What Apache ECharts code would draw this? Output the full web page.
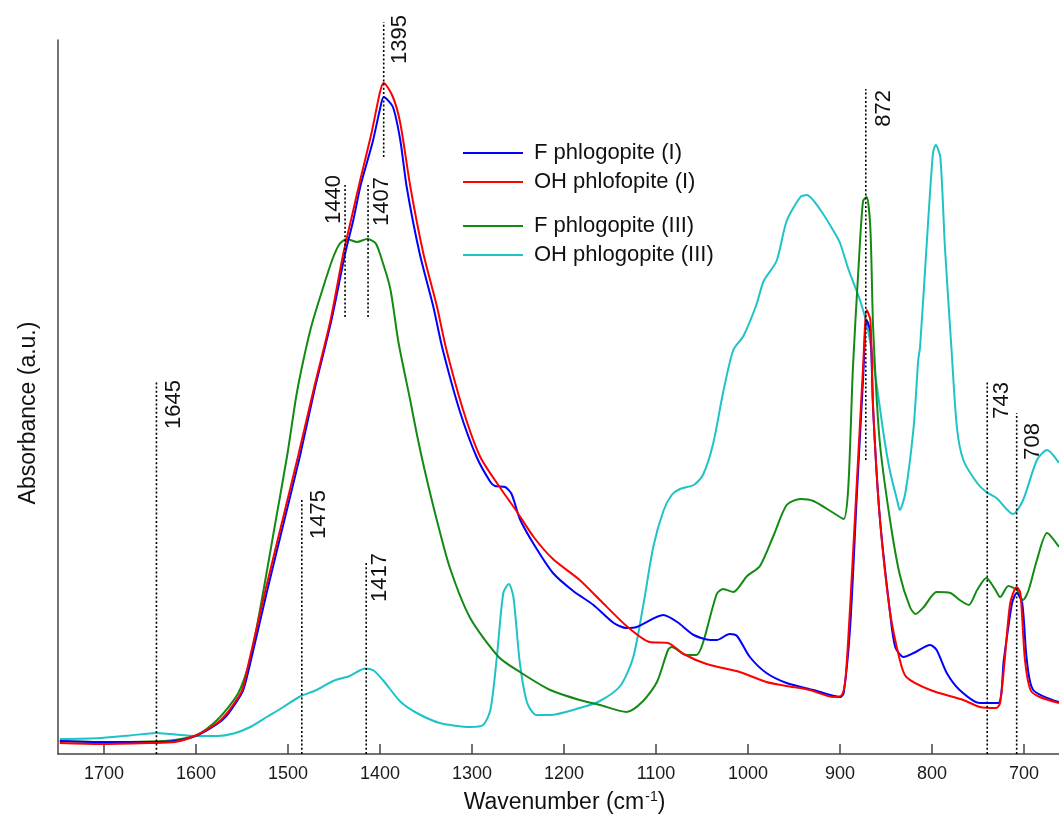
<!DOCTYPE html>
<html>
<head>
<meta charset="utf-8">
<script src="https://cdn.jsdelivr.net/npm/echarts@6/dist/echarts.min.js"></script>
<style>
  html, body { margin: 0; padding: 0; background: #fff; }
  #chart { width: 1059px; height: 816px; }
</style>
</head>
<body>
<div id="chart"></div>
<script>
// ---------------- DATA (wavenumber cm-1, absorbance a.u.) ----------------
const xTickValues = [1700, 1600, 1500, 1400, 1300, 1200, 1100, 1000, 900, 800, 700];
const xRange = [662, 1750];
const yRange = [0, 7.14];

const seriesNames = ['F phlogopite (I)', 'OH phlofopite (I)', 'F phlogopite (III)', 'OH phlogopite (III)'];

const fPhlogopiteI = [
  [1748,0.13],[1704,0.12],[1650,0.12],[1623,0.13],[1599,0.185],[1577,0.30],[1567,0.38],[1559,0.48],[1549,0.63],
  [1541,0.91],[1523,1.62],[1505,2.30],[1487,2.98],[1471,3.65],[1453,4.33],[1438,5.00],[1429,5.34],
  [1421,5.69],[1408,6.12],[1400,6.45],[1396,6.57],[1386,6.47],[1378,6.14],[1371,5.67],[1357,5.01],
  [1342,4.47],[1332,4.05],[1313,3.42],[1295,2.97],[1280,2.72],[1275,2.68],[1264,2.67],
  [1257,2.60],[1248,2.35],[1233,2.10],[1212,1.81],[1190,1.63],[1168,1.49],[1146,1.31],[1132,1.26],
  [1121,1.27],[1092,1.39],[1077,1.32],[1059,1.19],[1041,1.14],[1034,1.14],[1020,1.20],[1012,1.18],
  [998,0.97],[980,0.81],[958,0.71],[929,0.64],[900,0.57],[896,0.61],[889,1.27],[882,2.54],
  [875,3.74],[871,4.34],[867,4.22],[864,3.44],[857,2.39],[846,1.44],[840,1.07],[831,0.97],
  [820,1.01],[802,1.09],[795,1.04],[784,0.81],[770,0.64],[748,0.51],[728,0.51],[722,0.94],
  [713,1.51],[708,1.61],[702,1.51],[697,0.94],[690,0.64],[662,0.52]
];

const ohPhlogopiteI = [
  [1748,0.11],[1704,0.10],[1650,0.11],[1623,0.12],[1599,0.19],[1577,0.31],[1568,0.39],[1559,0.50],[1550,0.635],
  [1543,0.90],[1525,1.62],[1507,2.30],[1489,2.98],[1472,3.65],[1454,4.33],[1440,5.00],[1431,5.36],
  [1422,5.72],[1409,6.22],[1400,6.62],[1396,6.71],[1386,6.57],[1378,6.31],[1367,5.67],[1353,5.01],
  [1338,4.47],[1328,4.05],[1309,3.42],[1291,2.97],[1270,2.67],[1251,2.42],[1233,2.17],[1212,1.95],
  [1183,1.74],[1161,1.54],[1132,1.28],[1107,1.12],[1087,1.11],[1070,1.00],[1045,0.90],[1009,0.82],
  [980,0.72],[958,0.68],[933,0.64],[907,0.57],[898,0.59],[894,0.76],[889,1.48],[882,2.67],
  [875,3.86],[871,4.44],[867,4.34],[864,3.46],[857,2.39],[846,1.44],[835,0.94],[828,0.77],
  [802,0.64],[766,0.54],[748,0.47],[730,0.46],[726,0.51],[721,0.94],[715,1.51],[708,1.67],
  [704,1.61],[699,0.94],[693,0.64],[683,0.57],[662,0.51]
];

const fPhlogopiteIII = [
  [1748,0.13],[1704,0.12],[1650,0.125],[1623,0.14],[1599,0.19],[1577,0.34],[1554,0.61],[1541,0.95],
  [1527,1.62],[1514,2.30],[1501,2.98],[1491,3.58],[1483,3.95],[1474,4.30],[1462,4.66],[1452,4.94],
  [1444,5.10],[1436,5.15],[1425,5.12],[1414,5.15],[1405,5.11],[1400,5.00],[1389,4.66],[1380,4.12],
  [1367,3.53],[1360,3.20],[1351,2.82],[1338,2.33],[1324,1.86],[1302,1.36],[1271,0.97],[1248,0.82],
  [1215,0.64],[1183,0.54],[1161,0.49],[1132,0.42],[1114,0.53],[1099,0.72],[1087,1.04],[1083,1.07],
  [1067,0.99],[1056,0.99],[1049,1.11],[1034,1.60],[1027,1.65],[1016,1.62],[1001,1.78],[987,1.88],
  [972,2.19],[958,2.49],[943,2.55],[929,2.53],[907,2.41],[896,2.35],[891,2.67],[886,3.86],
  [880,4.85],[875,5.53],[871,5.57],[867,5.25],[864,4.26],[857,3.14],[846,2.36],[835,1.79],
  [824,1.47],[818,1.40],[809,1.47],[795,1.62],[780,1.61],[770,1.54],[760,1.49],[751,1.64],
  [741,1.76],[731,1.64],[726,1.57],[717,1.68],[708,1.64],[701,1.54],[695,1.64],[686,1.94],
  [675,2.21],[662,2.07]
];

const ohPhlogopiteIII = [
  [1748,0.15],[1704,0.16],[1672,0.185],[1643,0.21],[1628,0.20],[1599,0.18],[1577,0.18],[1559,0.205],
  [1541,0.27],[1523,0.37],[1505,0.47],[1487,0.575],[1469,0.64],[1451,0.73],[1433,0.78],[1416,0.855],
  [1407,0.835],[1396,0.73],[1378,0.525],[1360,0.41],[1335,0.31],[1302,0.27],[1288,0.29],[1280,0.44],
  [1273,0.97],[1266,1.61],[1260,1.70],[1255,1.57],[1248,0.91],[1240,0.51],[1230,0.39],[1215,0.39],
  [1183,0.46],[1161,0.53],[1139,0.68],[1125,0.96],[1114,1.48],[1103,2.07],[1092,2.43],[1083,2.59],
  [1074,2.65],[1059,2.69],[1049,2.79],[1038,3.10],[1027,3.62],[1016,4.04],[1005,4.18],[991,4.49],
  [983,4.73],[969,4.93],[958,5.33],[943,5.57],[936,5.59],[922,5.45],[907,5.23],[900,5.11],
  [891,4.85],[878,4.53],[871,4.30],[864,3.94],[853,3.22],[846,2.84],[838,2.54],[835,2.44],
  [829,2.61],[820,3.27],[815,3.94],[813,4.07],[806,5.07],[799,6.01],[796,6.09],[791,5.97],
  [786,5.07],[779,4.07],[773,3.27],[766,2.94],[751,2.71],[741,2.62],[730,2.56],[712,2.40],
  [701,2.54],[686,2.94],[675,3.04],[662,2.91]
];

// Peak marker annotations
const markerLabels      = ['1645', '1475', '1417', '1440', '1407', '1395', '872', '743', '708'];
const markerWavenumbers = [1643, 1485, 1415, 1438, 1413, 1396, 872, 740, 708];
const markerBottoms     = [0, 0, 0, 4.37, 4.37, 5.97, 2.94, 0, 0];
const markerTops        = [3.73, 2.55, 1.92, 5.69, 5.69, 7.32, 6.65, 3.72, 3.41];

// ---------------- STYLE / LAYOUT ----------------
const FONT = '"Liberation Sans", Arial, Helvetica, sans-serif';
const colors = ['#0000ff', '#ff0000', '#138a13', '#1ec3c8'];
// label offsets (px) relative to the dotted line's top end
const labelDx = [17, 17, 14, -11, 14, 16, 18, 15, 16];
const labelDy = [-1, -9, -9, -10, -8, -7, 1, 0, 10];

const markerData = markerWavenumbers.map((w, i) => [w, markerBottoms[i], markerTops[i]]);

const chart = echarts.init(document.getElementById('chart'), null, { renderer: 'canvas' });

function lineSeries(name, data, color) {
  return {
    type: 'line', name: name, data: data,
    showSymbol: false, symbol: 'none',
    smooth: 0.25,
    lineStyle: { color: color, width: 2 },
    itemStyle: { color: color },
    emphasis: { disabled: true },
    animation: false
  };
}

const legendCommon = {
  orient: 'vertical', left: 463, padding: 0,
  icon: 'rect', itemWidth: 60, itemHeight: 2, itemGap: 7,
  selectedMode: false,
  textStyle: { fontSize: 22, lineHeight: 22, color: '#111', fontFamily: FONT, padding: [0, 0, 0, 6] }
};

const option = {
  backgroundColor: '#ffffff',
  animation: false,
  grid: { left: 58, right: 0, top: 40, bottom: 62, containLabel: false, outerBoundsMode: 'none' },
  legend: [
    Object.assign({}, legendCommon, { top: 142, data: [seriesNames[0], seriesNames[1]] }),
    Object.assign({}, legendCommon, { top: 215, data: [seriesNames[2], seriesNames[3]] })
  ],
  xAxis: {
    type: 'value', inverse: true, min: xRange[0], max: xRange[1],
    name: 'Wavenumber (cm{sup|-1})', nameLocation: 'middle', nameGap: 36,
    nameTextStyle: {
      fontSize: 23, color: '#111', fontFamily: FONT, padding: [0, 0, 0, 12],
      rich: { sup: { fontSize: 14, color: '#111', fontFamily: FONT, padding: [0, 0, 12, 1] } }
    },
    axisLine: { show: true, onZero: false, lineStyle: { color: '#444', width: 1.5 } },
    axisTick: { show: true, inside: true, length: 10, customValues: xTickValues, lineStyle: { color: '#444', width: 1.5 } },
    axisLabel: { show: true, customValues: xTickValues, fontSize: 18, color: '#1a1a1a', fontFamily: FONT, margin: 11,
      formatter: function (v) { return String(v); } },
    splitLine: { show: false }
  },
  yAxis: {
    type: 'value', min: yRange[0], max: yRange[1],
    axisLine: { show: true, lineStyle: { color: '#444', width: 1.5 } },
    axisTick: { show: false }, axisLabel: { show: false }, splitLine: { show: false }
  },
  graphic: [
    {
      type: 'text', x: 29, y: 413, rotation: Math.PI / 2,
      style: { text: 'Absorbance (a.u.)', fontSize: 23, fontFamily: FONT, fill: '#111', align: 'center', verticalAlign: 'middle' }
    }
  ],
  series: [
    lineSeries(seriesNames[3], ohPhlogopiteIII, colors[3]),
    lineSeries(seriesNames[2], fPhlogopiteIII, colors[2]),
    lineSeries(seriesNames[0], fPhlogopiteI, colors[0]),
    lineSeries(seriesNames[1], ohPhlogopiteI, colors[1]),
    {
      type: 'custom', name: 'markers', data: markerData, clip: false, silent: true, z: 5,
      encode: { x: 0, y: [1, 2] },
      renderItem: function (params, api) {
        const i = params.dataIndex;
        const p0 = api.coord([api.value(0), api.value(1)]);
        const p1 = api.coord([api.value(0), api.value(2)]);
        return {
          type: 'group',
          children: [
            { type: 'line', shape: { x1: p0[0], y1: p0[1], x2: p1[0], y2: p1[1] },
              style: { stroke: '#000', lineWidth: 1.6, lineDash: [2, 2.2] } },
            { type: 'text', x: p1[0] + labelDx[i], y: p1[1] + labelDy[i], rotation: Math.PI / 2,
              style: { text: markerLabels[i], fontSize: 22, fontFamily: FONT, fill: '#111', align: 'right', verticalAlign: 'middle' } }
          ]
        };
      }
    }
  ]
};
chart.setOption(option);
</script>
</body>
</html>
